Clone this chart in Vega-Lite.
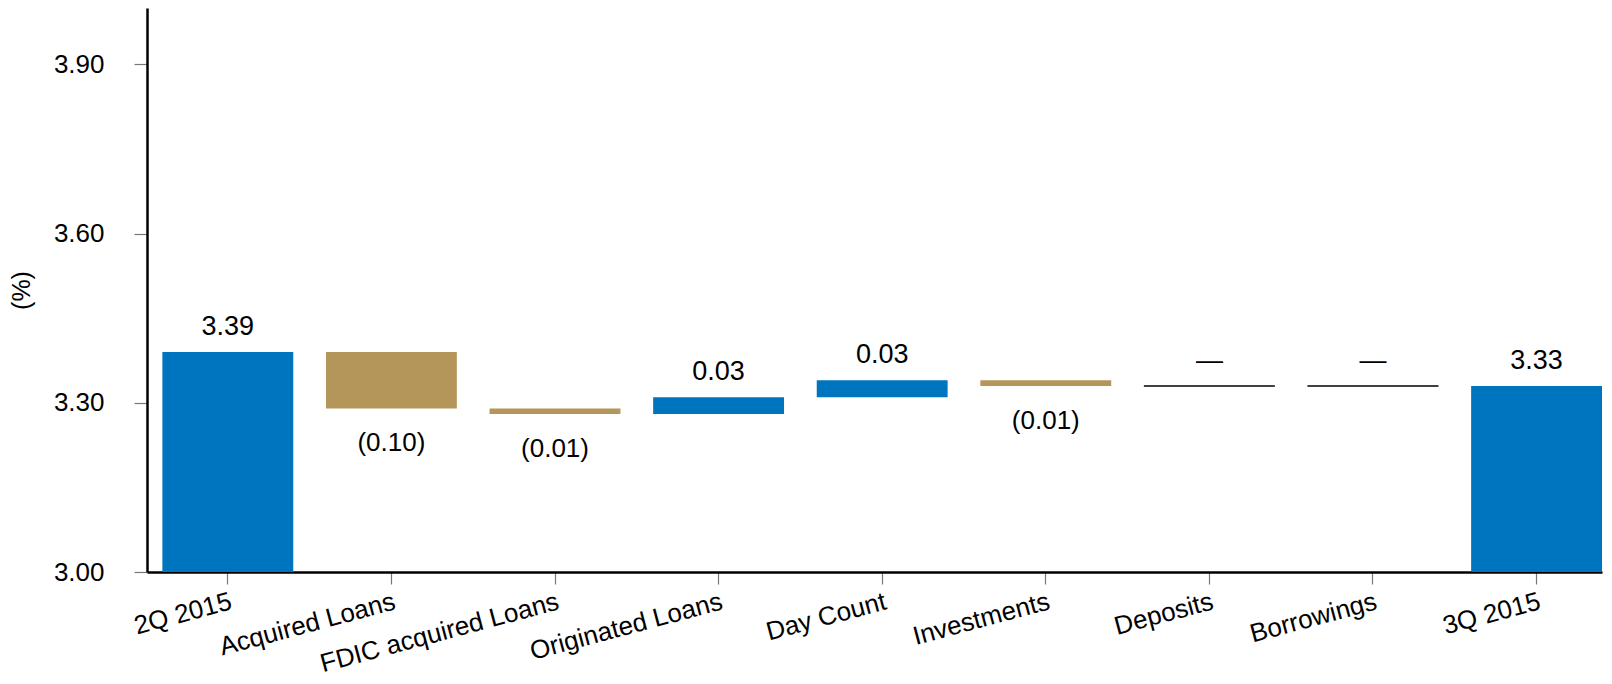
{
  "$schema": "https://vega.github.io/schema/vega-lite/v6.json",
  "width": 1455,
  "height": 564,
  "autosize": {"type": "none"},
  "padding": {"left": 147, "top": 8, "right": 10, "bottom": 112},
  "background": "white",
  "config": {
    "view": {"stroke": null},
    "font": "Liberation Sans",
    "axis": {
      "labelFont": "Liberation Sans",
      "titleFont": "Liberation Sans",
      "labelColor": "black",
      "titleColor": "black",
      "domainColor": "black",
      "domainWidth": 2.5,
      "tickColor": "#777777",
      "tickWidth": 1.2,
      "grid": false
    }
  },
  "data": {
    "values": [
      {"cat": "2Q 2015", "lo": 3.00, "hi": 3.39, "kind": "total", "label": "3.39"},
      {"cat": "Acquired Loans", "lo": 3.29, "hi": 3.39, "kind": "decrease", "label": "(0.10)"},
      {"cat": "FDIC acquired Loans", "lo": 3.28, "hi": 3.29, "kind": "decrease", "label": "(0.01)"},
      {"cat": "Originated Loans", "lo": 3.28, "hi": 3.31, "kind": "increase", "label": "0.03"},
      {"cat": "Day Count", "lo": 3.31, "hi": 3.34, "kind": "increase", "label": "0.03"},
      {"cat": "Investments", "lo": 3.33, "hi": 3.34, "kind": "decrease", "label": "(0.01)"},
      {"cat": "Deposits", "lo": 3.33, "hi": 3.33, "kind": "none", "label": "—"},
      {"cat": "Borrowings", "lo": 3.33, "hi": 3.33, "kind": "none", "label": "—"},
      {"cat": "3Q 2015", "lo": 3.00, "hi": 3.33, "kind": "total", "label": "3.33"}
    ]
  },
  "encoding": {
    "x": {
      "field": "cat",
      "type": "nominal",
      "sort": ["2Q 2015", "Acquired Loans", "FDIC acquired Loans", "Originated Loans", "Day Count", "Investments", "Deposits", "Borrowings", "3Q 2015"],
      "scale": {"paddingInner": 0.2, "paddingOuter": 0.047, "align": 1},
      "axis": {
        "title": null,
        "labelAngle": -15,
        "labelFontSize": 26,
        "labelPadding": 4,
        "labelLimit": 0,
        "tickSize": 12
      }
    }
  },
  "layer": [
    {
      "transform": [{"filter": "datum.kind != 'none'"}],
      "mark": {"type": "bar"},
      "encoding": {
        "y": {
          "field": "lo",
          "type": "quantitative",
          "scale": {"domain": [3, 4], "nice": false, "zero": false},
          "axis": {
            "values": [3.0, 3.3, 3.6, 3.9],
            "format": ".2f",
            "title": "(%)",
            "titleFontSize": 25,
            "titleFontWeight": "normal",
            "titlePadding": 19,
            "labelFontSize": 26,
            "labelPadding": 30,
            "tickSize": 13
          }
        },
        "y2": {"field": "hi"},
        "color": {
          "field": "kind",
          "type": "nominal",
          "scale": {"domain": ["total", "increase", "decrease"], "range": ["#0075BF", "#0075BF", "#B5965A"]},
          "legend": null
        }
      }
    },
    {
      "transform": [{"filter": "datum.kind == 'none'"}],
      "mark": {"type": "tick", "color": "black", "thickness": 1.5, "size": 131, "opacity": 1},
      "encoding": {
        "y": {"field": "hi", "type": "quantitative"}
      }
    },
    {
      "transform": [{"filter": "datum.kind != 'decrease'"}],
      "mark": {"type": "text", "baseline": "alphabetic", "dy": -17, "fontSize": 27, "color": "black"},
      "encoding": {
        "y": {"field": "hi", "type": "quantitative"},
        "text": {"field": "label"}
      }
    },
    {
      "transform": [{"filter": "datum.kind == 'decrease'"}],
      "mark": {"type": "text", "baseline": "alphabetic", "dy": 43, "fontSize": 26, "color": "black"},
      "encoding": {
        "y": {"field": "lo", "type": "quantitative"},
        "text": {"field": "label"}
      }
    }
  ]
}
